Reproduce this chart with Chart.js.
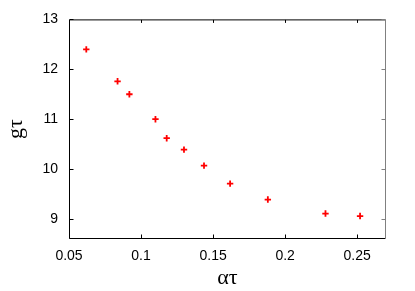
<!DOCTYPE html>
<html><head><meta charset="utf-8">
<script src="https://cdn.jsdelivr.net/npm/chart.js@4"></script>
<style>html,body{margin:0;padding:0;background:#fff}#wrap{width:415px;height:291px}</style>
</head><body><div id="wrap"><canvas id="c" width="415" height="291"></canvas></div>
<script>
const xValues = [0.062, 0.0837, 0.0919, 0.110, 0.1178, 0.1298, 0.1437, 0.1618, 0.188, 0.228, 0.252];
const yValues = [12.40, 11.76, 11.50, 11.00, 10.62, 10.39, 10.07, 9.71, 9.39, 9.11, 9.06];
const xTicks = [0.05, 0.1, 0.15, 0.2, 0.25];
const yTicks = [9, 10, 11, 12, 13];
const xTickLabels = ['0.05', '0.1', '0.15', '0.2', '0.25'];
const yTickLabels = ['9', '10', '11', '12', '13'];

const innerTicks = {
  id: 'innerTicks',
  afterDraw(chart) {
    const {ctx, chartArea: a, scales: {x, y}} = chart;
    const L = a.left + 0.5, R = a.right - 0.5, T = a.top + 0.5, B = a.bottom - 0.5;
    ctx.save();
    ctx.lineWidth = 1;
    ctx.strokeStyle = '#000';
    ctx.beginPath();
    ctx.moveTo(R, T); ctx.lineTo(L, T); ctx.lineTo(L, B); ctx.lineTo(R, B);
    xTicks.forEach(v => {
      const p = Math.round(x.getPixelForValue(v)) + 0.5;
      ctx.moveTo(p, B); ctx.lineTo(p, B - 4);
      ctx.moveTo(p, T); ctx.lineTo(p, T + 3);
    });
    yTicks.forEach(v => {
      const p = Math.round(y.getPixelForValue(v)) + 0.5;
      ctx.moveTo(L, p); ctx.lineTo(L + 4, p);
    });
    ctx.stroke();
    ctx.strokeStyle = '#808080';
    ctx.beginPath();
    ctx.moveTo(R, T); ctx.lineTo(R, B);
    yTicks.forEach(v => {
      const p = Math.round(y.getPixelForValue(v)) + 0.5;
      ctx.moveTo(R, p); ctx.lineTo(R - 4, p);
    });
    ctx.stroke();
    ctx.restore();
  }
};

new Chart(document.getElementById('c'), {
  type: 'scatter',
  data: {
    datasets: [{
      data: xValues.map((v, i) => ({x: v, y: yValues[i]})),
      pointStyle: 'cross',
      pointRadius: 3.2,
      pointBorderWidth: 1.8,
      borderColor: '#ff0000',
      backgroundColor: '#ff0000'
    }]
  },
  options: {
    responsive: false,
    animation: false,
    layout: {padding: {top: 19, right: 29, left: 3, bottom: 0}},
    plugins: {legend: {display: false}, tooltip: {enabled: false}},
    scales: {
      x: {
        type: 'linear', min: 0.05, max: 0.27,
        afterBuildTicks: ax => { ax.ticks = xTicks.map(v => ({value: v})); },
        afterFit: ax => { ax.height = 52; },
        grid: {display: false, drawTicks: false},
        border: {display: false},
        ticks: {
          color: '#000', padding: 9,
          font: {family: 'Liberation Sans, Arial, sans-serif', size: 14},
          callback: (v) => { const i = xTicks.findIndex(t => Math.abs(t - v) < 1e-9); return i >= 0 ? xTickLabels[i] : ''; }
        },
        title: {display: true, text: 'ατ', color: '#000', padding: {top: 0, bottom: 0},
          font: {family: 'Liberation Serif, Times New Roman, serif', size: 22}}
      },
      y: {
        type: 'linear', min: 8.6, max: 13,
        afterBuildTicks: ax => { ax.ticks = yTicks.map(v => ({value: v})); },
        afterFit: ax => { ax.width = 66; },
        grid: {display: false, drawTicks: false},
        border: {display: false},
        ticks: {
          color: '#000', padding: 11,
          font: {family: 'Liberation Sans, Arial, sans-serif', size: 14},
          callback: (v) => { const i = yTicks.findIndex(t => Math.abs(t - v) < 1e-9); return i >= 0 ? yTickLabels[i] : ''; }
        },
        title: {display: true, text: 'gτ', color: '#000', padding: {top: 0, bottom: 10},
          font: {family: 'Liberation Serif, Times New Roman, serif', size: 22}}
      }
    }
  },
  plugins: [innerTicks]
});
</script>
</body></html>
